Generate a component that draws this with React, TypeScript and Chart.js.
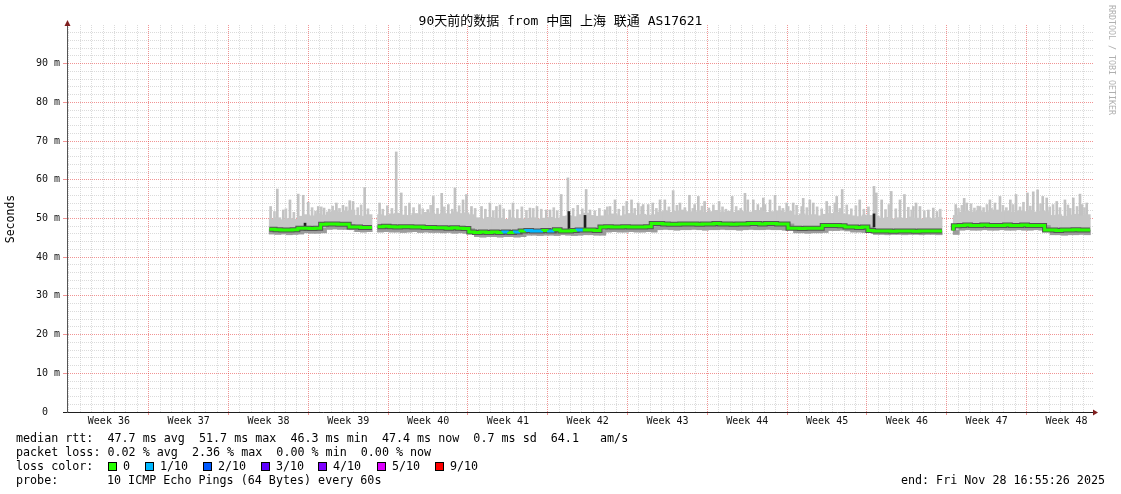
import React, { useEffect, useRef } from 'react';
import { Chart, registerables } from 'chart.js';

Chart.register(...registerables);

const MONO = "'DejaVu Sans Mono', 'Noto Sans CJK SC', monospace";

const TITLE = '90天前的数据 from 中国 上海 联通 AS17621';
const Y_AXIS_TITLE = 'Seconds';
const WATERMARK = 'RRDTOOL / TOBI OETIKER';
const WEEK_LABELS = ['Week 36', 'Week 37', 'Week 38', 'Week 39', 'Week 40', 'Week 41', 'Week 42',
  'Week 43', 'Week 44', 'Week 45', 'Week 46', 'Week 47', 'Week 48'];
const Y_LABELS: Record<number, string> = {
  0: '0  ', 10: '10 m', 20: '20 m', 30: '30 m', 40: '40 m', 50: '50 m', 60: '60 m', 70: '70 m', 80: '80 m', 90: '90 m',
};

// x axis in days across the 90 day window
const X_MIN = 0;
const X_MAX = 90;
const FIRST_DAY_LINE = 0.175;
const FIRST_WEEK_MID = 3.675;
const Y_MIN = 0;
const Y_MAX = 100;

// half-day samples starting at day 17.75 (left edge of first sample)
const SAMPLE_START = 17.75;
const SAMPLE_STEP = 0.5;

const MEDIAN: (number | null)[] = [
  47.2, 47.2, 47.1, 47.0, 47.0, 47.1, 47.5, 47.5, 47.4, 47.5,
  48.5, 48.6, 48.6, 48.5, 48.5, 47.8, 47.8, 47.7, null, 47.9,
  47.9, 48.0, 47.9, 47.8, 47.9, 47.9, 47.8, 47.8, 47.7, 47.7,
  47.6, 47.6, 47.5, 47.6, 47.5, 47.4, 46.5, 46.4, 46.5, 46.4,
  46.5, 46.4, 46.5, 46.4, 46.5, 46.8, 46.9, 46.8, 46.8, 46.9,
  46.8, 47.1, 46.8, 46.8, 46.9, 47.0, 47.0, 47.0, 46.9, 47.8,
  47.9, 47.8, 47.8, 47.9, 47.8, 47.8, 47.8, 47.9, 48.7, 48.7,
  48.6, 48.5, 48.5, 48.6, 48.6, 48.6, 48.5, 48.6, 48.6, 48.7,
  48.6, 48.6, 48.5, 48.6, 48.6, 48.7, 48.7, 48.6, 48.7, 48.7,
  48.6, 48.6, 47.5, 47.5, 47.4, 47.5, 47.5, 47.5, 48.2, 48.2,
  48.2, 48.1, 47.8, 47.8, 47.7, 47.8, 46.9, 46.8, 46.8, 46.8,
  46.7, 46.8, 46.8, 46.8, 46.7, 46.8, 46.8, 46.8, null, null,
  46.9, 48.1, 48.2, 48.3, 48.2, 48.2, 48.3, 48.2, 48.2, 48.2,
  48.3, 48.2, 48.2, 48.3, 48.2, 48.2, 48.2, 47.0, 47.0, 46.9,
  47.0, 47.0, 47.1, 47.0,
];

const SMOKE_TOP: (number | null)[] = [
  49.9, 50.2, 49.7, 50.0, 49.8, 50.6, 51.0, 50.7, 51.2, 50.9,
  51.7, 52.0, 51.6, 51.9, 52.2, 50.8, 50.6, 51.0, null, 51.0,
  50.7, 51.2, 51.4, 50.9, 50.8, 51.3, 51.0, 51.6, 51.4, 51.1,
  51.4, 51.2, 51.7, 51.3, 51.5, 51.0, 50.2, 49.9, 50.3, 50.0,
  50.1, 49.8, 50.2, 50.0, 49.9, 50.0, 50.2, 49.9, 50.1, 50.3,
  50.0, 50.6, 50.7, 50.5, 51.0, 51.4, 50.8, 50.6, 50.7, 50.9,
  51.2, 50.7, 51.0, 51.3, 50.8, 51.1, 50.9, 51.0, 51.7, 52.0,
  51.6, 51.9, 52.2, 51.8, 51.7, 52.0, 51.6, 51.8, 52.1, 51.7,
  51.9, 51.6, 52.0, 51.8, 51.7, 52.1, 51.9, 51.6, 51.8, 52.0,
  51.7, 51.9, 50.9, 51.2, 50.8, 51.0, 50.7, 51.1, 51.3, 51.6,
  51.2, 51.0, 50.7, 50.5, 50.9, 50.8, 50.6, 50.1, 50.3, 49.9,
  50.2, 50.0, 50.4, 50.1, 49.9, 50.2, 50.0, 50.3, null, null,
  50.8, 51.6, 51.9, 51.7, 52.0, 51.6, 51.8, 52.2, 51.7, 51.9,
  51.6, 52.0, 51.8, 52.1, 51.7, 51.9, 51.8, 50.8, 51.0, 50.6,
  50.9, 51.1, 50.7, 51.0,
];

const SMOKE_BOTTOM: (number | null)[] = [
  46.0, 45.9, 46.0, 45.8, 45.9, 46.0, 46.3, 46.2, 46.2, 46.3,
  47.2, 47.3, 47.2, 47.2, 47.1, 46.6, 46.5, 46.6, null, 46.5,
  46.6, 46.5, 46.5, 46.4, 46.5, 46.6, 46.4, 46.5, 46.4, 46.4,
  46.3, 46.4, 46.2, 46.3, 46.2, 46.2, 45.3, 45.2, 45.3, 45.3,
  45.2, 45.3, 45.3, 45.2, 45.3, 45.7, 45.7, 45.6, 45.7, 45.7,
  45.6, 45.8, 45.7, 45.6, 45.7, 45.8, 45.8, 45.7, 45.7, 46.5,
  46.6, 46.5, 46.5, 46.6, 46.5, 46.5, 46.6, 46.5, 47.1, 47.2,
  47.1, 47.0, 47.1, 47.1, 47.2, 47.1, 47.0, 47.1, 47.1, 47.2,
  47.1, 47.1, 47.0, 47.1, 47.2, 47.1, 47.1, 47.2, 47.1, 47.1,
  47.0, 47.1, 46.3, 46.3, 46.2, 46.3, 46.3, 46.4, 46.9, 46.9,
  47.0, 46.8, 46.5, 46.5, 46.4, 46.5, 45.9, 45.9, 45.8, 45.9,
  45.9, 45.8, 45.9, 45.9, 45.8, 45.9, 45.9, 45.8, null, null,
  45.9, 47.0, 47.1, 47.0, 47.0, 47.1, 47.0, 47.0, 47.1, 47.0,
  47.0, 47.1, 47.0, 47.0, 47.1, 47.0, 47.0, 45.8, 45.8, 45.7,
  45.8, 45.8, 45.9, 45.8,
];

// samples with packet loss (tenths of pings lost)
const LOSS_SAMPLES = [41, 43, 45, 46, 47, 49, 54];
const LOSS_TENTHS = [1, 1, 1, 1, 1, 1, 1];

// tall single-ping spikes above the smoke (day, ms)
const SPIKE_DAYS = [
  17.86, 18.45, 18.97, 19.56, 20.28, 20.72, 21.16, 22.04, 22.55, 23.63,
  24.21, 24.80, 25.09, 26.11, 27.42, 28.88, 29.32, 30.04, 30.92, 31.65,
  32.13, 32.87, 33.45, 34.03, 34.74, 35.04, 35.48, 36.36, 37.10, 37.67,
  37.98, 38.83, 39.12, 40.61, 41.23, 42.04, 42.37, 43.35, 43.94, 45.54,
  45.88, 47.19, 47.63, 48.07, 49.10, 49.52, 50.11, 50.41, 50.54, 50.98,
  51.38, 52.02, 52.44, 53.17, 53.77, 54.60, 55.06, 55.38, 55.93, 57.20,
  58.35, 59.47, 59.72, 60.20, 60.60, 61.08, 61.23, 61.67, 62.11, 63.13,
  63.26, 63.70, 64.45, 64.58, 65.16, 65.46, 66.64, 67.35, 67.52, 68.00,
  69.54, 70.79, 70.99, 71.46, 72.30, 73.07, 73.46, 74.24, 74.48, 74.82,
  75.56, 75.99, 76.32, 77.96, 78.70, 78.92, 80.09, 80.96, 81.40, 81.84,
  82.75, 83.25, 84.25, 84.76, 85.14, 85.59, 85.94, 86.82, 87.54, 88.27,
  88.86, 89.04, 89.45,
];
const SPIKE_MS = [
  53.1, 57.6, 52.2, 54.8, 56.3, 56.0, 54.2, 53.1, 52.7, 54.0,
  53.4, 54.6, 54.4, 58.0, 54.0, 67.2, 56.6, 54.0, 53.6, 52.3,
  55.7, 56.5, 53.6, 57.9, 54.8, 56.2, 53.1, 53.1, 54.0, 53.1,
  53.5, 52.2, 54.0, 52.7, 53.1, 52.2, 52.2, 56.2, 60.5, 57.5,
  52.2, 52.2, 53.1, 54.8, 54.4, 54.8, 54.0, 53.1, 53.6, 53.6,
  54.0, 54.8, 54.8, 57.2, 54.0, 56.0, 53.6, 55.7, 54.4, 54.4,
  55.7, 56.5, 54.8, 54.8, 53.6, 55.3, 53.6, 54.8, 56.0, 54.0,
  53.1, 54.0, 53.1, 55.2, 54.8, 54.0, 54.4, 54.0, 55.7, 57.5,
  54.8, 58.3, 56.6, 54.8, 57.0, 54.8, 56.2, 53.1, 54.0, 53.1,
  52.2, 52.7, 51.8, 53.6, 55.2, 54.0, 53.1, 54.8, 54.0, 55.7,
  54.8, 56.2, 56.6, 56.9, 57.4, 55.7, 55.3, 54.4, 54.8, 55.3,
  56.3, 53.6, 54.0,
];

// lower "grass" of the smoke (day, ms)
const GRASS_DAYS = [
  18.2, 19.2, 19.9, 21.5, 21.8, 22.3, 23.0, 23.3, 23.9, 24.5,
  25.5, 25.8, 26.4, 27.7, 28.1, 28.5, 29.7, 30.4, 31.2, 31.9,
  32.5, 33.1, 33.8, 34.4, 35.8, 36.7, 37.4, 38.3, 39.5, 39.9,
  40.3, 40.9, 41.6, 42.7, 43.0, 44.4, 44.8, 45.2, 46.3, 46.7,
  47.4, 48.4, 48.8, 49.8, 51.7, 52.8, 53.5, 54.2, 54.9, 55.7,
  56.3, 56.7, 57.5, 57.8, 58.7, 59.1, 60.9, 62.5, 62.8, 64.0,
  64.9, 65.8, 66.2, 66.9, 67.8, 68.4, 68.8, 69.2, 69.9, 70.3,
  71.8, 72.1, 72.7, 73.8, 74.1, 75.2, 76.6, 78.2, 78.5, 79.3,
  79.6, 79.9, 80.4, 80.7, 81.1, 82.1, 82.4, 83.0, 83.6, 83.9,
  84.5, 85.4, 86.2, 86.5, 87.1, 87.8, 88.0, 88.6, 89.25,
];
const GRASS_MS = [
  51.8, 52.5, 51.6, 52.8, 51.9, 53.0, 52.4, 53.2, 52.6, 53.0,
  52.8, 53.5, 52.5, 52.4, 53.3, 52.6, 53.2, 52.8, 52.5, 53.4,
  52.6, 53.0, 52.4, 53.3, 52.6, 52.4, 52.0, 52.5, 52.3, 53.0,
  52.1, 52.6, 52.4, 52.8, 52.0, 52.6, 53.4, 52.5, 52.0, 52.6,
  53.0, 52.4, 53.2, 52.6, 52.6, 53.0, 53.4, 52.8, 52.6, 53.2,
  52.7, 53.5, 53.0, 52.4, 53.1, 52.6, 52.8, 53.2, 52.6, 53.4,
  52.8, 53.0, 52.5, 53.2, 52.6, 53.5, 52.5, 53.3, 52.4, 53.0,
  52.3, 53.6, 52.5, 52.9, 52.2, 52.0, 52.4, 52.6, 53.4, 53.8,
  52.7, 53.2, 52.8, 53.6, 52.6, 53.4, 52.8, 53.6, 53.0, 54.2,
  53.2, 53.8, 53.0, 53.6, 52.8, 53.5, 52.6, 53.1, 52.8,
];

// short median jumps drawn as dark vertical strokes
const JUMP_DAYS = [20.88, 44.03, 45.44, 70.79];
const JUMP_LOW = [47.0, 46.8, 47.0, 47.8];
const JUMP_HIGH = [48.8, 51.8, 50.8, 51.2];

const LOSS_LEGEND = ['0', '1/10', '2/10', '3/10', '4/10', '5/10', '9/10'];
const LOSS_LEGEND_COLORS = ['#26ff00', '#00b8ff', '#0059ff', '#5e00ff', '#7e00ff', '#dd00ff', '#ff0000'];
const LOSS_COLOR_BY_TENTHS = ['#26ff00', '#00b8ff', '#0059ff', '#5e00ff', '#7e00ff', '#dd00ff',
  '#dd00ff', '#ff0000', '#ff0000', '#ff0000', '#ff0000'];

const STAT_RTT = 'median rtt:  47.7 ms avg  51.7 ms max  46.3 ms min  47.4 ms now  0.7 ms sd  64.1   am/s';
const STAT_LOSS = 'packet loss: 0.02 % avg  2.36 % max  0.00 % min  0.00 % now';
const LOSS_LABEL = 'loss color:';
const PROBE_LABEL = 'probe:';
const PROBE_TEXT = '10 ICMP Echo Pings (64 Bytes) every 60s';
const END_TEXT = 'end: Fri Nov 28 16:55:26 2025';

const GRID_MINOR = 'rgba(143,143,143,0.32)';
const GRID_MAJOR = 'rgba(230,60,60,0.55)';

// ---- derived structures ----
type XTick = { value: number; kind: 'minor' | 'major' | 'label'; label: string };

function buildXTicks(): XTick[] {
  const t: XTick[] = [];
  for (let k = 0; FIRST_DAY_LINE + k < X_MAX; k++) {
    t.push({ value: FIRST_DAY_LINE + k, kind: k > 0 && k % 7 === 0 ? 'major' : 'minor', label: '' });
  }
  WEEK_LABELS.forEach((lab, w) => t.push({ value: FIRST_WEEK_MID + 7 * w, kind: 'label', label: lab }));
  t.sort((a, b) => a.value - b.value);
  return t;
}

function lossAt(i: number): number {
  const k = LOSS_SAMPLES.indexOf(i);
  return k >= 0 ? LOSS_TENTHS[k] : 0;
}

function sampleCenter(i: number) {
  return SAMPLE_START + SAMPLE_STEP * i + SAMPLE_STEP / 2;
}

function buildMedianPoints() {
  const pts: { x: number; y: number | null; loss: number }[] = [];
  const n = MEDIAN.length;
  let i = 0;
  while (i < n) {
    if (MEDIAN[i] == null) { i++; continue; }
    let j = i;
    while (j < n && MEDIAN[j] != null) {
      pts.push({ x: SAMPLE_START + SAMPLE_STEP * j, y: MEDIAN[j] as number, loss: lossAt(j) });
      j++;
    }
    pts.push({ x: SAMPLE_START + SAMPLE_STEP * j, y: MEDIAN[j - 1] as number, loss: lossAt(j - 1) });
    pts.push({ x: SAMPLE_START + SAMPLE_STEP * j + 0.01, y: null, loss: 0 });
    i = j;
  }
  return pts;
}

function nearestMedian(day: number): number {
  let idx = Math.round((day - SAMPLE_START - SAMPLE_STEP / 2) / SAMPLE_STEP);
  idx = Math.max(0, Math.min(MEDIAN.length - 1, idx));
  for (let d = 0; d < 4; d++) {
    if (MEDIAN[idx + d] != null) return MEDIAN[idx + d] as number;
    if (MEDIAN[idx - d] != null) return MEDIAN[idx - d] as number;
  }
  return 47;
}

function xKind(v: number): 'minor' | 'major' | 'label' {
  const fromDay = v - FIRST_DAY_LINE;
  const isDay = Math.abs(fromDay - Math.round(fromDay)) < 1e-6;
  if (!isDay) return 'label';
  const k = Math.round(fromDay);
  return k > 0 && k % 7 === 0 ? 'major' : 'minor';
}

const decorPlugin = {
  id: 'rrdDecor',
  afterDraw(chart: any) {
    const { ctx, chartArea: area } = chart;
    ctx.save();
    // axis arrows
    ctx.fillStyle = '#801f1f';
    const ax = Math.round(area.left) + 0.5;
    ctx.beginPath();
    ctx.moveTo(ax - 3, area.top + 1);
    ctx.lineTo(ax + 3, area.top + 1);
    ctx.lineTo(ax, area.top - 5);
    ctx.closePath();
    ctx.fill();
    const ay = Math.round(area.bottom) + 0.5;
    ctx.beginPath();
    ctx.moveTo(area.right, ay - 3);
    ctx.lineTo(area.right, ay + 3);
    ctx.lineTo(area.right + 5, ay);
    ctx.closePath();
    ctx.fill();

    // title
    ctx.fillStyle = '#000';
    ctx.font = `13px ${MONO}`;
    ctx.textAlign = 'center';
    ctx.textBaseline = 'middle';
    ctx.fillText(TITLE, chart.width / 2, 22);

    // vertical axis title
    ctx.save();
    ctx.translate(11, 219);
    ctx.rotate(-Math.PI / 2);
    ctx.font = `11.5px ${MONO}`;
    ctx.fillText(Y_AXIS_TITLE, 0, 0);
    ctx.restore();

    // watermark
    ctx.save();
    ctx.translate(1111, 5);
    ctx.rotate(Math.PI / 2);
    ctx.font = `8.3px ${MONO}`;
    ctx.fillStyle = '#b0b0b0';
    ctx.textAlign = 'left';
    ctx.fillText(WATERMARK, 0, 0);
    ctx.restore();

    // legend block
    ctx.font = `11.7px ${MONO}`;
    ctx.textAlign = 'left';
    ctx.fillStyle = '#000';
    ctx.fillText(STAT_RTT, 16, 438.5);
    ctx.fillText(STAT_LOSS, 16, 452.5);
    ctx.fillText(LOSS_LABEL, 16, 466.5);
    const boxX = [108, 145, 203, 261, 318, 377, 435];
    LOSS_LEGEND.forEach((lab, k) => {
      ctx.fillStyle = LOSS_LEGEND_COLORS[k];
      ctx.fillRect(boxX[k], 462, 9, 9);
      ctx.strokeStyle = '#000';
      ctx.lineWidth = 1;
      ctx.strokeRect(boxX[k] + 0.5, 462.5, 8, 8);
      ctx.fillStyle = '#000';
      ctx.fillText(lab, boxX[k] + 15, 466.5);
    });
    ctx.fillText(PROBE_LABEL, 16, 480.5);
    ctx.fillText(PROBE_TEXT, 107, 480.5);
    ctx.textAlign = 'right';
    ctx.fillText(END_TEXT, 1105, 480.5);
    ctx.restore();
  },
};

export default function App() {
  const ref = useRef<HTMLCanvasElement | null>(null);

  useEffect(() => {
    if (!ref.current) return;
    const xTicks = buildXTicks();
    const yTicks: number[] = [];
    for (let v = Y_MIN; v <= Y_MAX; v += 2) yTicks.push(v);

    const medianPts = buildMedianPoints();

    const lightBars: any[] = [];
    const midBars: any[] = [];
    MEDIAN.forEach((m, i) => {
      const top = SMOKE_TOP[i];
      const bot = SMOKE_BOTTOM[i];
      if (m == null || top == null || bot == null) return;
      lightBars.push({ x: sampleCenter(i), y: [bot, top] });
      midBars.push({ x: sampleCenter(i), y: [bot, m] });
    });
    const spikeBars = SPIKE_DAYS.map((d, k) => ({ x: d, y: [nearestMedian(d), SPIKE_MS[k]] }));
    const grassBars = GRASS_DAYS.map((d, k) => ({ x: d, y: [nearestMedian(d), GRASS_MS[k]] }));
    const jumpBars = JUMP_DAYS.map((d, k) => ({ x: d, y: [JUMP_LOW[k], JUMP_HIGH[k]] }));

    Chart.defaults.font.family = MONO;

    const chart = new Chart(ref.current, {
      type: 'line',
      data: {
        datasets: [
          {
            type: 'line',
            label: 'median',
            data: medianPts as any,
            stepped: 'after',
            borderWidth: 3,
            borderColor: LOSS_COLOR_BY_TENTHS[0],
            segment: {
              borderColor: (c: any) => LOSS_COLOR_BY_TENTHS[medianPts[c.p0DataIndex]?.loss ?? 0],
            },
            pointRadius: 0,
            fill: false,
            spanGaps: false,
            order: 0,
          } as any,
          {
            type: 'line',
            label: 'median shade',
            data: medianPts as any,
            stepped: 'after',
            borderWidth: 5,
            borderColor: '#555555',
            pointRadius: 0,
            fill: false,
            spanGaps: false,
            order: 1,
          } as any,
          {
            type: 'bar',
            label: 'jumps',
            data: jumpBars as any,
            backgroundColor: '#202020',
            barThickness: 2,
            grouped: false,
            borderWidth: 0,
            order: 2,
          } as any,
          {
            type: 'bar',
            label: 'lower smoke',
            data: midBars as any,
            backgroundColor: '#9c9c9c',
            barThickness: 6,
            grouped: false,
            borderWidth: 0,
            order: 3,
          } as any,
          {
            type: 'bar',
            label: 'smoke',
            data: lightBars as any,
            backgroundColor: '#c6c6c6',
            barThickness: 6,
            grouped: false,
            borderWidth: 0,
            order: 4,
          } as any,
          {
            type: 'bar',
            label: 'grass',
            data: grassBars as any,
            backgroundColor: '#c6c6c6',
            barThickness: 2,
            grouped: false,
            borderWidth: 0,
            order: 5,
          } as any,
          {
            type: 'bar',
            label: 'spikes',
            data: spikeBars as any,
            backgroundColor: '#c2c2c2',
            barThickness: 2,
            grouped: false,
            borderWidth: 0,
            order: 6,
          } as any,
        ],
      },
      options: {
        animation: false,
        responsive: false,
        devicePixelRatio: 1,
        events: [],
        layout: { padding: { left: 0, right: 28, top: 25, bottom: 0 } },
        plugins: {
          legend: { display: false },
          tooltip: { enabled: false },
          title: { display: false },
        },
        scales: {
          x: {
            type: 'linear',
            min: X_MIN,
            max: X_MAX,
            offset: false,
            z: 1,
            afterBuildTicks: (s: any) => { s.ticks = xTicks.map((t) => ({ value: t.value })); },
            afterFit: (s: any) => { s.height = 82; },
            grid: {
              offset: false,
              lineWidth: 1,
              drawTicks: true,
              tickLength: 3,
              color: (c: any) => {
                const v = c.tick ? c.tick.value : NaN;
                const kind = xKind(v);
                if (kind === 'label') return 'rgba(0,0,0,0)';
                return kind === 'major' ? GRID_MAJOR : GRID_MINOR;
              },
              tickColor: (c: any) => {
                const v = c.tick ? c.tick.value : NaN;
                return xKind(v) === 'major' ? GRID_MAJOR : 'rgba(0,0,0,0)';
              },
            },
            border: { display: true, color: '#1f1f1f', width: 1, dash: [1, 1] },
            ticks: {
              autoSkip: false,
              maxRotation: 0,
              minRotation: 0,
              padding: 0,
              color: '#111',
              font: { family: MONO, size: 10 },
              callback: (_v: any, i: number) => xTicks[i]?.label ?? '',
            },
          },
          y: {
            type: 'linear',
            min: Y_MIN,
            max: Y_MAX,
            z: 1,
            afterBuildTicks: (s: any) => { s.ticks = yTicks.map((v) => ({ value: v })); },
            afterFit: (s: any) => { s.width = 67; },
            grid: {
              lineWidth: 1,
              drawTicks: true,
              tickLength: 4,
              color: (c: any) => {
                const v = c.tick?.value;
                if (v === Y_MIN || v === Y_MAX) return 'rgba(0,0,0,0)';
                return v % 10 === 0 ? GRID_MAJOR : GRID_MINOR;
              },
              tickColor: (c: any) => {
                const v = c.tick?.value;
                if (v === Y_MIN) return '#1f1f1f';
                return v % 10 === 0 && v !== Y_MAX ? GRID_MAJOR : 'rgba(0,0,0,0)';
              },
            },
            border: { display: true, color: '#555', width: 1, dash: [1, 1] },
            ticks: {
              autoSkip: false,
              padding: 3,
              color: '#111',
              font: { family: MONO, size: 10 },
              callback: (v: any) => Y_LABELS[v as number] ?? '',
            },
          },
        },
      },
      plugins: [decorPlugin],
    } as any);

    return () => chart.destroy();
  }, []);

  return (
    <div style={{ position: 'absolute', left: 0, top: 0, width: 1121, height: 494, background: '#fff' }}>
      <canvas ref={ref} width={1121} height={494} style={{ display: 'block', width: 1121, height: 494 }} />
    </div>
  );
}
